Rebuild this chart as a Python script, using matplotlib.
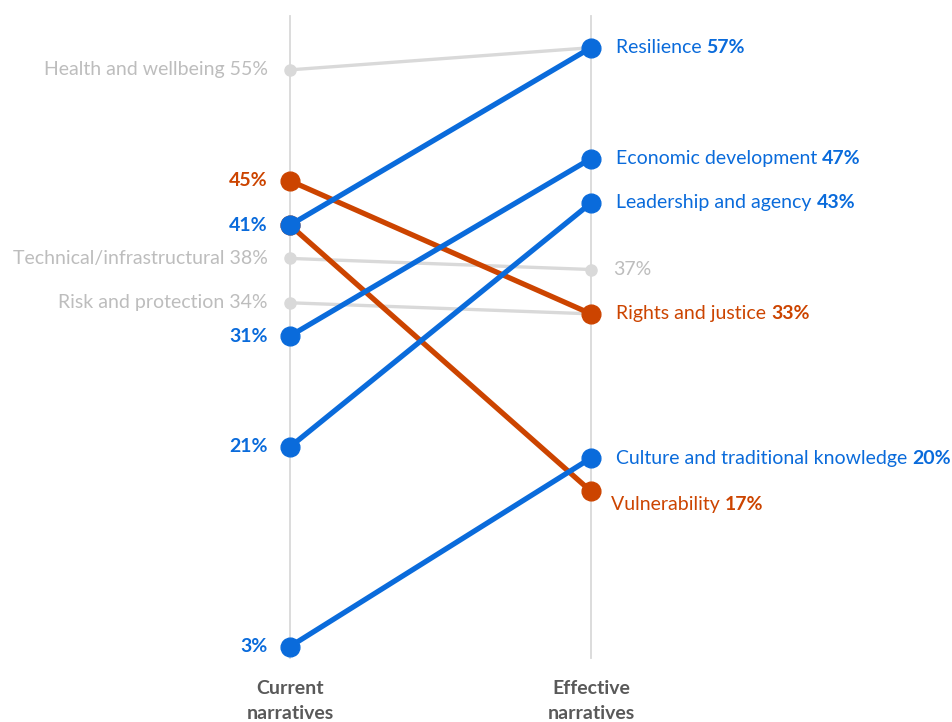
import matplotlib
matplotlib.use("Agg")
import matplotlib.pyplot as plt
from matplotlib.transforms import offset_copy

plt.rcParams['font.family'] = ['Lato', 'DejaVu Sans']

BLUE = "#0A6BDB"
ORANGE = "#CC4400"
GRAY_LINE = "#D9D9D9"
GRAY_TEXT = "#BDBDBD"

# narrative, current %, effective %, group
names = ["Health and wellbeing", "Resilience", "Rights and justice", "Vulnerability",
         "Technical/infrastructural", "Risk and protection", "Economic development",
         "Leadership and agency", "Culture and traditional knowledge"]
current = [55, 41, 45, 41, 38, 34, 31, 21, 3]
effective = [57, 57, 33, 17, 37, 33, 47, 43, 20]
group = ["gray", "blue", "orange", "orange", "gray", "gray", "blue", "blue", "blue"]
columns = ["Current\nnarratives", "Effective\nnarratives"]

colors = {"gray": GRAY_LINE, "blue": BLUE, "orange": ORANGE}
text_colors = {"gray": GRAY_TEXT, "blue": BLUE, "orange": ORANGE}

fig = plt.figure(figsize=(9.52, 7.22), dpi=100)
ax = fig.add_axes([0, 0, 1, 1])
ax.set_xlim(-0.963, 2.199)
ax.set_ylim(-3.8, 61.3)
ax.axis("off")

# vertical guides
for i in range(2):
    ax.plot([i, i], [2.0, 59.9], color=GRAY_LINE, lw=1.3, zorder=1)

# lines: gray first, then orange, then blue on top
for g_draw, lw, ms, z in [("gray", 2.4, 8, 2), ("orange", 3.8, 13.5, 3), ("blue", 3.8, 13.5, 4)]:
    for n, c, e, g in zip(names, current, effective, group):
        if g == g_draw:
            ax.plot([0, 1], [c, e], color=colors[g], lw=lw, marker="o", ms=ms,
                    solid_capstyle="round", zorder=z)

fs = 14
renderer = fig.canvas.get_renderer()

# left labels
for n, c, e, g in zip(names, current, effective, group):
    tr = offset_copy(ax.transData, fig=fig, x=-22, y=0, units="dots")
    if g == "gray":
        ax.text(0, c, f"{n} {c}%", transform=tr, ha="right", va="center",
                fontsize=fs, color=GRAY_TEXT)
    elif n != "Vulnerability":
        ax.text(0, c, f"{c}%", transform=tr, ha="right", va="center",
                fontsize=fs, color=text_colors[g], fontweight="bold")

# right labels
for n, c, e, g in zip(names, current, effective, group):
    if g == "gray":
        if n == "Technical/infrastructural":
            tr = offset_copy(ax.transData, fig=fig, x=22, y=0, units="dots")
            ax.text(1, e, f"{e}%", transform=tr, ha="left", va="center",
                    fontsize=fs, color=GRAY_TEXT)
        continue
    dx, dy = 25, 0
    if n == "Vulnerability":
        dx, dy = 20, -13
    tr = offset_copy(ax.transData, fig=fig, x=dx, y=dy, units="dots")
    t = ax.text(1, e, n + " ", transform=tr, ha="left", va="center",
                fontsize=fs, color=text_colors[g])
    w = t.get_window_extent(renderer=renderer).width
    tr2 = offset_copy(ax.transData, fig=fig, x=dx + w, y=dy, units="dots")
    ax.text(1, e, f"{e}%", transform=tr2, ha="left", va="center",
            fontsize=fs, color=text_colors[g], fontweight="bold")

# column titles
for i, lab in enumerate(columns):
    tr = offset_copy(ax.transData, fig=fig, x=0, y=-22, units="dots")
    ax.text(i, 2.0, lab, transform=tr, ha="center", va="top", fontsize=fs,
            color="#595959", fontweight="bold", linespacing=1.6)

fig.savefig("out.png", dpi=100)
